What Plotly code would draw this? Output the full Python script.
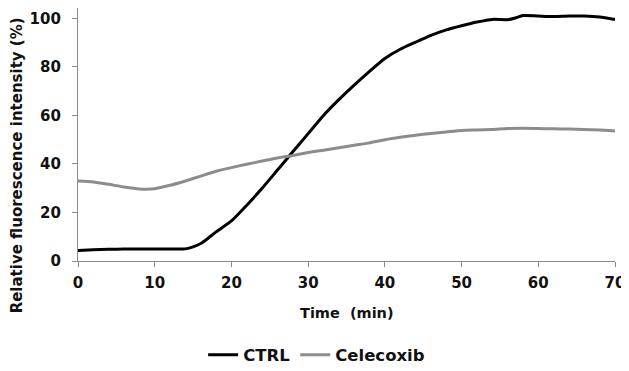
import plotly.graph_objects as go

time_min = [0, 2, 4, 6, 8, 10, 12, 13, 14, 15, 16, 17, 18, 20, 22, 24, 26, 28, 30, 32, 34, 36, 38, 40,
            42, 44, 46, 48, 50, 52, 54, 56, 57, 58, 60, 62, 64, 66, 68, 70]
ctrl = [4.3, 4.6, 4.8, 4.9, 4.9, 4.9, 4.9, 4.9, 5.0, 5.8, 7.2, 9.5, 12.0, 16.5, 23.0, 30.0, 37.5, 45.0,
        52.5, 60.0, 66.5, 72.5, 78.2, 83.5, 87.3, 90.2, 93.0, 95.3, 97.0, 98.5, 99.6, 99.5, 100.2,
        101.2, 101.0, 100.8, 101.0, 101.0, 100.6, 99.5]

time_cel = [0, 2, 4, 6, 8, 10, 12, 14, 16, 18, 20, 22, 24, 26, 28, 30, 32, 34, 36, 38, 40, 42, 44,
            46, 48, 50, 52, 54, 56, 58, 60, 62, 64, 66, 68, 70]
celecoxib = [33.0, 32.6, 31.6, 30.5, 29.7, 29.8, 31.2, 33.0, 35.0, 37.0, 38.5, 39.9, 41.2, 42.5, 43.5,
             44.7, 45.7, 46.7, 47.7, 48.7, 50.0, 51.0, 51.8, 52.6, 53.2, 53.8, 54.0, 54.2, 54.6, 54.7,
             54.6, 54.5, 54.4, 54.2, 54.0, 53.6]

x_ticks = [0, 10, 20, 30, 40, 50, 60, 70]
y_ticks = [0, 20, 40, 60, 80, 100]

FONT = "DejaVu Sans"
TXT = "#111111"
AXC = "#8a8a8a"

fig = go.Figure()
fig.add_trace(go.Scatter(x=time_min, y=ctrl, mode="lines", name="CTRL",
                         line=dict(color="#000000", width=3, shape="spline", smoothing=0.6)))
fig.add_trace(go.Scatter(x=time_cel, y=celecoxib, mode="lines", name="Celecoxib",
                         line=dict(color="#8c8c8c", width=3, shape="spline", smoothing=0.6)))

fig.update_layout(
    width=621, height=363,
    margin=dict(l=70, r=14, t=0, b=110, autoexpand=False),
    paper_bgcolor="white", plot_bgcolor="white",
    font=dict(family=FONT, color=TXT, size=15, weight="bold"),
    showlegend=True,
    legend=dict(orientation="h", xref="container", yref="container", x=0.497, y=0.044,
                xanchor="center", yanchor="middle", font=dict(family=FONT, size=16.5, weight="bold", color=TXT),
                itemwidth=30, tracegroupgap=0, bgcolor="rgba(0,0,0,0)"),
    xaxis=dict(range=[0, 70], tickvals=x_ticks, ticktext=[str(v) for v in x_ticks],
               showgrid=False, zeroline=False, showline=True, linecolor=AXC, linewidth=1.3,
               ticks="outside", ticklen=5, tickcolor=AXC, tickwidth=1.3, automargin=False,
               tickfont=dict(family=FONT, size=15, weight="bold", color=TXT), ticklabelstandoff=3),
    yaxis=dict(range=[0, 104.3], tickvals=y_ticks, ticktext=[str(v) for v in y_ticks],
               showgrid=False, zeroline=False, showline=True, linecolor=AXC, linewidth=1.3,
               ticks="outside", ticklen=5, tickcolor=AXC, tickwidth=1.3, automargin=False,
               tickfont=dict(family=FONT, size=15, weight="bold", color=TXT), ticklabelstandoff=8),
    annotations=[
        dict(text="Relative fluorescence intensity (%)", textangle=-90, xref="paper", yref="paper",
             x=-0.1136, y=0.378, xanchor="center", yanchor="middle", showarrow=False,
             font=dict(family=FONT, size=15, weight="bold", color=TXT)),
        dict(text="Time  (min)", xref="paper", yref="paper", x=0.5, y=-0.205,
             xanchor="center", yanchor="middle", showarrow=False,
             font=dict(family=FONT, size=14.5, weight="bold", color=TXT)),
    ],
)

fig.write_html("out.html")
